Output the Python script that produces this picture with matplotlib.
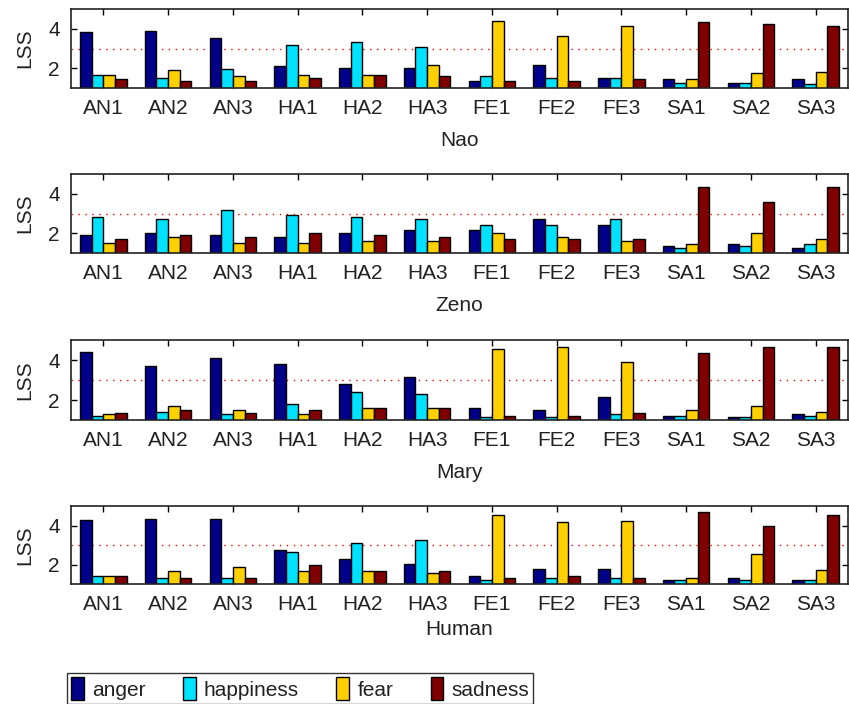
import numpy as np
import matplotlib.pyplot as plt
from matplotlib.patches import Patch

plt.rcParams['font.family'] = ['Liberation Sans', 'DejaVu Sans']

stimuli = ['AN1', 'AN2', 'AN3', 'HA1', 'HA2', 'HA3',
           'FE1', 'FE2', 'FE3', 'SA1', 'SA2', 'SA3']
emotions = ['anger', 'happiness', 'fear', 'sadness']
colors = ['#000088', '#00E0FF', '#FFD000', '#800000']
subjects = ['Nao', 'Zeno', 'Mary', 'Human']

# LSS per stimulus, one list per emotion
nao_anger = [3.83, 3.9, 3.53, 2.1, 2.0, 2.0, 1.35, 2.18, 1.52, 1.45, 1.25, 1.45]
nao_happy = [1.68, 1.52, 1.98, 3.17, 3.35, 3.07, 1.62, 1.52, 1.52, 1.25, 1.25, 1.18]
nao_fear = [1.68, 1.9, 1.62, 1.68, 1.68, 2.17, 4.4, 3.62, 4.15, 1.45, 1.78, 1.82]
nao_sad = [1.45, 1.37, 1.37, 1.53, 1.68, 1.62, 1.37, 1.37, 1.45, 4.32, 4.23, 4.15]

zeno_anger = [1.93, 2.0, 1.93, 1.83, 2.0, 2.15, 2.18, 2.72, 2.43, 1.37, 1.45, 1.27]
zeno_happy = [2.8, 2.7, 3.17, 2.9, 2.8, 2.7, 2.43, 2.43, 2.72, 1.25, 1.37, 1.45]
zeno_fear = [1.5, 1.8, 1.5, 1.53, 1.62, 1.62, 2.0, 1.82, 1.62, 1.45, 2.02, 1.73]
zeno_sad = [1.72, 1.93, 1.83, 2.0, 1.93, 1.83, 1.73, 1.73, 1.73, 4.33, 3.6, 4.33]

mary_anger = [4.39, 3.71, 4.09, 3.78, 2.8, 3.16, 1.61, 1.52, 2.15, 1.21, 1.13, 1.32]
mary_happy = [1.21, 1.4, 1.28, 1.78, 2.39, 2.29, 1.13, 1.13, 1.3, 1.21, 1.13, 1.21]
mary_fear = [1.28, 1.69, 1.52, 1.28, 1.59, 1.59, 4.55, 4.65, 3.88, 1.5, 1.69, 1.4]
mary_sad = [1.33, 1.52, 1.33, 1.52, 1.59, 1.59, 1.21, 1.21, 1.33, 4.36, 4.65, 4.65]

human_anger = [4.26, 4.34, 4.34, 2.75, 2.3, 2.02, 1.43, 1.75, 1.75, 1.23, 1.33, 1.23]
human_happy = [1.41, 1.33, 1.33, 2.66, 3.1, 3.26, 1.23, 1.33, 1.33, 1.18, 1.23, 1.18]
human_fear = [1.41, 1.67, 1.87, 1.66, 1.66, 1.54, 4.56, 4.16, 4.23, 1.31, 2.56, 1.74]
human_sad = [1.41, 1.33, 1.33, 1.95, 1.66, 1.66, 1.33, 1.43, 1.33, 4.69, 3.97, 4.56]

data = [
    [nao_anger, nao_happy, nao_fear, nao_sad],
    [zeno_anger, zeno_happy, zeno_fear, zeno_sad],
    [mary_anger, mary_happy, mary_fear, mary_sad],
    [human_anger, human_happy, human_fear, human_sad],
]
threshold = 3

W, H = 849, 704
fig = plt.figure(figsize=(W / 100, H / 100), dpi=100)

# panel boxes in pixels: (top, bottom), plus xlabel gap
boxes = [(9, 88), (174, 253), (340, 420), (506, 584)]
xlabel_pads = [9, 9, 9, 4]
left_px, right_px = 71, 848

x = np.arange(1, len(stimuli) + 1)
width = 0.18
offsets = [-0.27, -0.09, 0.09, 0.27]

for k, (top, bot) in enumerate(boxes):
    ax = fig.add_axes([left_px / W, 1 - bot / H, (right_px - left_px) / W, (bot - top) / H])
    for j in range(4):
        ax.bar(x + offsets[j], data[k][j], width, color=colors[j],
               edgecolor='black', linewidth=1, zorder=2)
    ax.axhline(threshold, color='red', linestyle=(0, (1, 4)), linewidth=1, zorder=1)
    ax.set_xlim(0.5, 12.5)
    ax.set_ylim(1, 5)
    ax.set_xticks(x)
    ax.set_xticklabels(stimuli, fontsize=15, color='#222222')
    ax.set_yticks([2, 4])
    ax.set_yticklabels(['2', '4'], fontsize=15, color='#222222')
    ax.tick_params(direction='in', top=True, right=True, length=4, width=1, pad=8)
    ax.set_ylabel('LSS', fontsize=15, color='#222222', labelpad=10)
    ax.set_xlabel(subjects[k], fontsize=15, color='#222222', labelpad=xlabel_pads[k])
    for s in ax.spines.values():
        s.set_linewidth(1.2)
        s.set_color('#222222')

handles = [Patch(facecolor=c, edgecolor='black', linewidth=1) for c in colors]
leg = fig.legend(handles, emotions, loc='upper left',
                 bbox_to_anchor=(67 / W, 1 - 673 / H), ncol=4, fontsize=15,
                 frameon=True, fancybox=False, edgecolor='black',
                 handlelength=0.6, handleheight=1.3, handletextpad=0.4,
                 columnspacing=1.8, borderpad=0.2, borderaxespad=0,
                 labelcolor='#222222')
leg.get_frame().set_linewidth(1)

fig.savefig('out.png', dpi=100)
